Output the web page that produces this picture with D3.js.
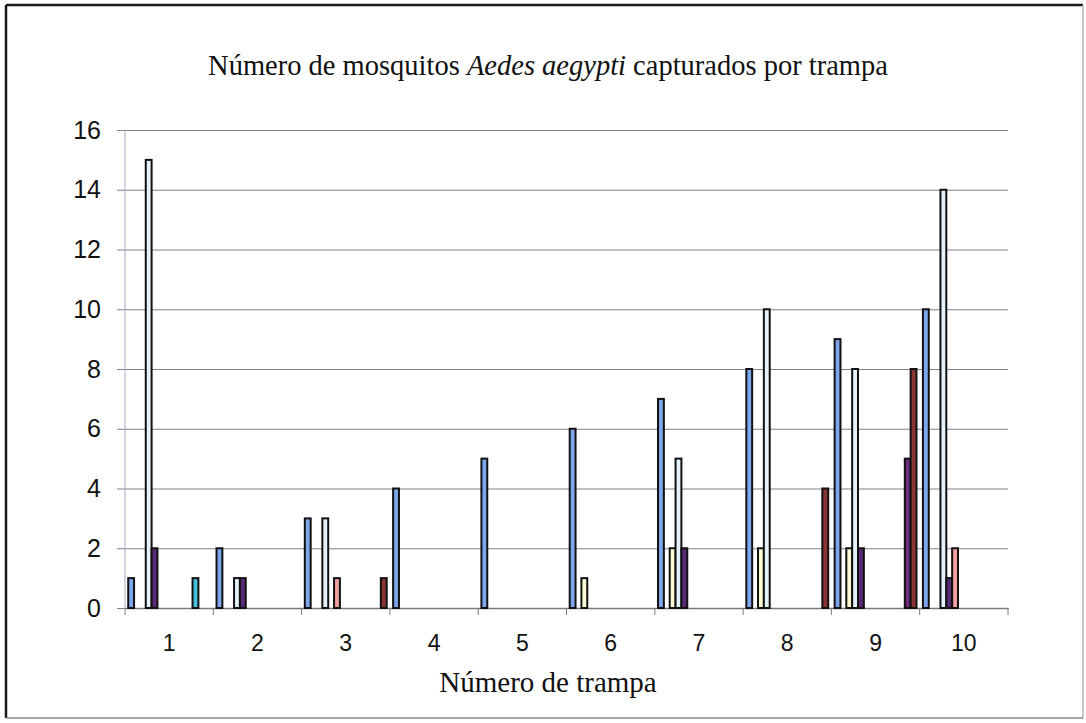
<!DOCTYPE html>
<html>
<head>
<meta charset="utf-8">
<script src="https://cdn.jsdelivr.net/npm/d3@7"></script>
<style>
  html, body { margin: 0; padding: 0; background: #fff; }
  svg { display: block; }
</style>
</head>
<body>
<svg id="chart" width="1086" height="723"></svg>
<script>
// ---- data ----
const traps = ["1", "2", "3", "4", "5", "6", "7", "8", "9", "10"];
const seriesNames = ["S1","S2","S3","S4","S5","S6","S7","S8","S9","S10","S11","S12","S13","S14"];
const s1  = [1, 2, 3, 4, 5, 6, 7, 8, 9, 10];
const s2  = [0, 0, 0, 0, 0, 0, 0, 0, 0, 0];
const s3  = [0, 0, 0, 0, 0, 1, 2, 2, 2, 0];
const s4  = [15, 1, 3, 0, 0, 0, 5, 10, 8, 14];
const s5  = [2, 1, 0, 0, 0, 0, 2, 0, 2, 1];
const s6  = [0, 0, 1, 0, 0, 0, 0, 0, 0, 2];
const s7  = [0, 0, 0, 0, 0, 0, 0, 0, 0, 0];
const s8  = [0, 0, 0, 0, 0, 0, 0, 0, 0, 0];
const s9  = [0, 0, 0, 0, 0, 0, 0, 0, 0, 0];
const s10 = [0, 0, 0, 0, 0, 0, 0, 0, 0, 0];
const s11 = [0, 0, 0, 0, 0, 0, 0, 0, 0, 0];
const s12 = [1, 0, 0, 0, 0, 0, 0, 0, 0, 0];
const s13 = [0, 0, 0, 0, 0, 0, 0, 0, 5, 0];
const s14 = [0, 0, 1, 0, 0, 0, 0, 4, 8, 0];
const yTicks = [0, 2, 4, 6, 8, 10, 12, 14, 16];
const titleA = "Número de mosquitos ";
const titleB = "Aedes aegypti";
const titleC = " capturados por trampa";
const xTitle = "Número de trampa";

const seriesValues = [s1, s2, s3, s4, s5, s6, s7, s8, s9, s10, s11, s12, s13, s14];
const colors = ["#7ea6ea", "#993366", "#fffbd2", "#e4f3fb", "#5a2a78", "#f3a0a0",
                "#0066cc", "#ccccff", "#000080", "#ff00ff", "#ffff00", "#45c0dc",
                "#6e2a7e", "#8a3434"];

// ---- layout ----
const svg = d3.select("#chart");
const mLeft = 125, mRight = 1008, mTop = 130, mBottom = 608;

// outer frame
svg.append("line").attr("x1", 6).attr("y1", 5).attr("x2", 1083).attr("y2", 5)
  .attr("stroke", "#1a1a1a").attr("stroke-width", 2.5);
svg.append("line").attr("x1", 6).attr("y1", 5).attr("x2", 6).attr("y2", 718)
  .attr("stroke", "#1a1a1a").attr("stroke-width", 2.5);
svg.append("line").attr("x1", 1083).attr("y1", 5).attr("x2", 1083).attr("y2", 718)
  .attr("stroke", "#b5b5b5").attr("stroke-width", 1.5);
svg.append("line").attr("x1", 6).attr("y1", 718).attr("x2", 1083).attr("y2", 718)
  .attr("stroke", "#8a8a8a").attr("stroke-width", 1.5);

const x = d3.scaleBand().domain(traps).range([mLeft, mRight]).padding(0);
const xi = d3.scaleBand().domain(seriesNames).range([0, x.bandwidth()])
  .paddingInner(0).paddingOuter(0.55);
const y = d3.scaleLinear().domain([0, 16]).range([mBottom, mTop]);

// y axis with gridlines
const yAxis = svg.append("g").attr("transform", `translate(${mLeft},0)`)
  .call(d3.axisLeft(y).tickValues(yTicks).tickSize(-(mRight - mLeft)).tickPadding(24).tickFormat(d3.format("d")));
yAxis.select(".domain").remove();
yAxis.selectAll(".tick line")
  .attr("x1", -8).attr("x2", mRight - mLeft)
  .attr("stroke", "#80808a").attr("stroke-width", 1.2);
yAxis.selectAll(".tick text")
  .attr("font-family", "'Liberation Sans', Arial, sans-serif")
  .attr("font-size", 25).attr("fill", "#111");

// vertical y axis line
svg.append("line").attr("x1", mLeft).attr("x2", mLeft).attr("y1", mTop).attr("y2", mBottom)
  .attr("stroke", "#a9a9c4").attr("stroke-width", 1);

// x axis labels
const xAxis = svg.append("g").attr("transform", `translate(0,${mBottom})`)
  .call(d3.axisBottom(x).tickSize(0).tickPadding(27));
xAxis.select(".domain").attr("stroke", "#7a7a84").attr("stroke-width", 1.3);
xAxis.selectAll(".tick text")
  .attr("font-family", "'Liberation Sans', Arial, sans-serif")
  .attr("font-size", 23).attr("fill", "#111");

// category boundary tick marks
const boundaries = traps.map(t => x(t)).concat([x(traps[traps.length - 1]) + x.bandwidth()]);
svg.append("g").selectAll("line").data(boundaries).join("line")
  .attr("x1", d => d).attr("x2", d => d)
  .attr("y1", mBottom).attr("y2", mBottom + 7)
  .attr("stroke", "#7a7a84").attr("stroke-width", 1);

// bars
const groups = svg.append("g").selectAll("g").data(traps).join("g")
  .attr("transform", d => `translate(${x(d)},0)`);
groups.selectAll("rect")
  .data((t, i) => seriesNames.map((s, k) => ({ s, k, v: seriesValues[k][i] })).filter(d => d.v > 0))
  .join("rect")
  .attr("x", d => xi(d.s))
  .attr("width", xi.bandwidth())
  .attr("y", d => y(d.v))
  .attr("height", d => y(0) - y(d.v))
  .attr("fill", d => colors[d.k])
  .attr("stroke", "#111")
  .attr("stroke-width", 2);

// title
const title = svg.append("text")
  .attr("x", 548).attr("y", 75)
  .attr("text-anchor", "middle")
  .attr("font-family", "'Liberation Serif', 'Times New Roman', serif")
  .attr("font-size", 28.5).attr("fill", "#111");
title.append("tspan").text(titleA);
title.append("tspan").attr("font-style", "italic").text(titleB);
title.append("tspan").text(titleC);

// x axis title
svg.append("text")
  .attr("x", 548).attr("y", 692)
  .attr("text-anchor", "middle")
  .attr("font-family", "'Liberation Serif', 'Times New Roman', serif")
  .attr("font-size", 29).attr("fill", "#111")
  .text(xTitle);
</script>
</body>
</html>
